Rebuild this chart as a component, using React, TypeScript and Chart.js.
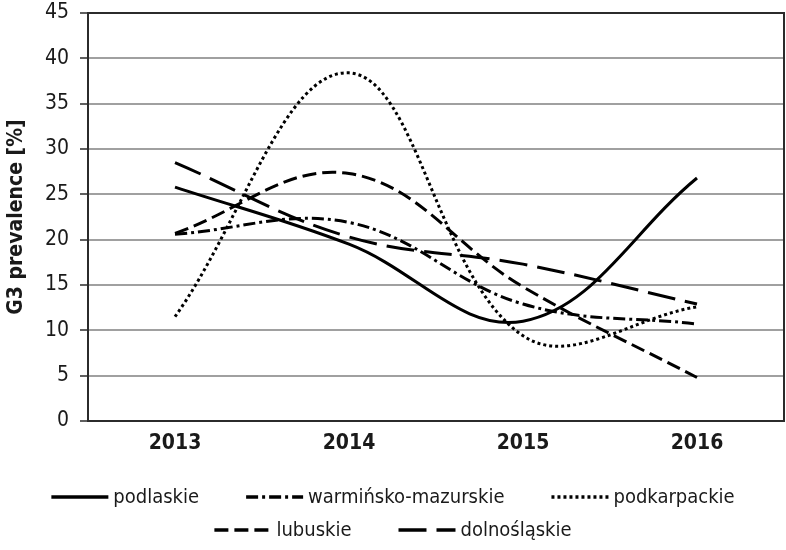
import React, { useEffect, useRef } from "react";
import { Chart, registerables } from "chart.js";

Chart.register(...registerables);

const years = ["2013", "2014", "2015", "2016"];
const seriesNames = ["podlaskie", "warmińsko-mazurskie", "podkarpackie", "lubuskie", "dolnośląskie"];
const podlaskie = [25.8, 19.5, 11.0, 26.8];
const warminskoMazurskie = [20.6, 21.9, 12.9, 10.7];
const podkarpackie = [11.5, 38.4, 9.4, 12.6];
const lubuskie = [20.7, 27.3, 14.8, 4.8];
const dolnoslaskie = [28.5, 20.3, 17.3, 12.9];
const yMin = 0;
const yMax = 45;
const yStep = 5;
const yTitle = "G3 prevalence [%]";

const FONT = '"DejaVu Sans Condensed", "Liberation Sans Narrow", "Liberation Sans", sans-serif';
const TEXT = "#1a1a1a";

const dashes = [[], [12, 4, 3, 4], [3, 3], [14, 6], [28, 10]];
const seriesValues = [podlaskie, warminskoMazurskie, podkarpackie, lubuskie, dolnoslaskie];

const boxPlugin = {
  id: "plotBox",
  beforeDatasetsDraw(chart: any) {
    const { ctx, chartArea } = chart;
    ctx.save();
    ctx.strokeStyle = "#2b2b2b";
    ctx.lineWidth = 2;
    ctx.setLineDash([]);
    ctx.strokeRect(chartArea.left, chartArea.top, chartArea.right - chartArea.left, chartArea.bottom - chartArea.top);
    ctx.restore();
  },
};

const legendPlugin = {
  id: "rowLegend",
  afterDraw(chart: any) {
    const { ctx, chartArea } = chart;
    const ds = chart.data.datasets;
    const sample = 57;
    const gapText = 5;
    const gapItem = 47;
    const rows = [[0, 1, 2], [3, 4]];
    const rowY = [chartArea.bottom + 76, chartArea.bottom + 109];
    ctx.save();
    ctx.font = `20px ${FONT}`;
    ctx.textBaseline = "middle";
    ctx.textAlign = "left";
    rows.forEach((row, r) => {
      const widths = row.map((i) => sample + gapText + ctx.measureText(ds[i].label).width);
      const total = widths.reduce((a, b) => a + b, 0) + gapItem * (row.length - 1);
      let x = chart.width / 2 - total / 2;
      const y = rowY[r];
      row.forEach((i, k) => {
        ctx.strokeStyle = "#000";
        ctx.lineWidth = 3.5;
        ctx.lineCap = "butt";
        ctx.setLineDash(ds[i].borderDash || []);
        ctx.beginPath();
        ctx.moveTo(x, y);
        ctx.lineTo(x + sample, y);
        ctx.stroke();
        ctx.setLineDash([]);
        ctx.fillStyle = TEXT;
        ctx.fillText(ds[i].label, x + sample + gapText, y + 1);
        x += widths[k] + gapItem;
      });
    });
    ctx.restore();
  },
};

export default function App() {
  const canvasRef = useRef<HTMLCanvasElement | null>(null);

  useEffect(() => {
    document.body.style.margin = "0";
    const canvas = canvasRef.current;
    if (!canvas) return;
    const chart = new Chart(canvas, {
      type: "line",
      data: {
        labels: years,
        datasets: seriesValues.map((vals, i) => ({
          label: seriesNames[i],
          data: vals,
          borderColor: "#000",
          backgroundColor: "#000",
          borderWidth: 3,
          borderDash: dashes[i],
          borderCapStyle: "butt",
          pointRadius: 0,
          pointHoverRadius: 0,
          tension: 0.38,
          fill: false,
        })),
      },
      options: {
        responsive: false,
        animation: false,
        events: [],
        layout: { padding: { left: 0, top: 0, right: 2, bottom: 89 } },
        plugins: {
          legend: { display: false },
          tooltip: { enabled: false },
        },
        scales: {
          x: {
            offset: true,
            grid: { display: false, drawTicks: false },
            border: { display: false },
            ticks: {
              color: TEXT,
              padding: 10,
              font: { family: FONT, size: 21, weight: "bold" },
            },
            afterFit: (scale: any) => {
              scale.height = 40;
            },
          },
          y: {
            min: yMin,
            max: yMax,
            ticks: {
              stepSize: yStep,
              color: TEXT,
              padding: 11,
              font: { family: FONT, size: 21 },
            },
            grid: {
              color: "#a0a0a0",
              lineWidth: 2,
              tickColor: "#2b2b2b",
              tickLength: 8,
              tickWidth: 1.5,
            },
            border: { display: false },
            title: {
              display: true,
              text: yTitle,
              color: TEXT,
              padding: { top: 4, bottom: 0 },
              font: { family: FONT, size: 21, weight: "bold" },
            },
            afterFit: (scale: any) => {
              scale.width = 88;
              scale.paddingTop = 13;
              scale.paddingBottom = 0;
            },
          },
        },
      },
      plugins: [boxPlugin, legendPlugin],
    } as any);
    return () => chart.destroy();
  }, []);

  return (
    <div style={{ width: 786, height: 550 }}>
      <canvas ref={canvasRef} width={786} height={550} style={{ display: "block" }} />
    </div>
  );
}
